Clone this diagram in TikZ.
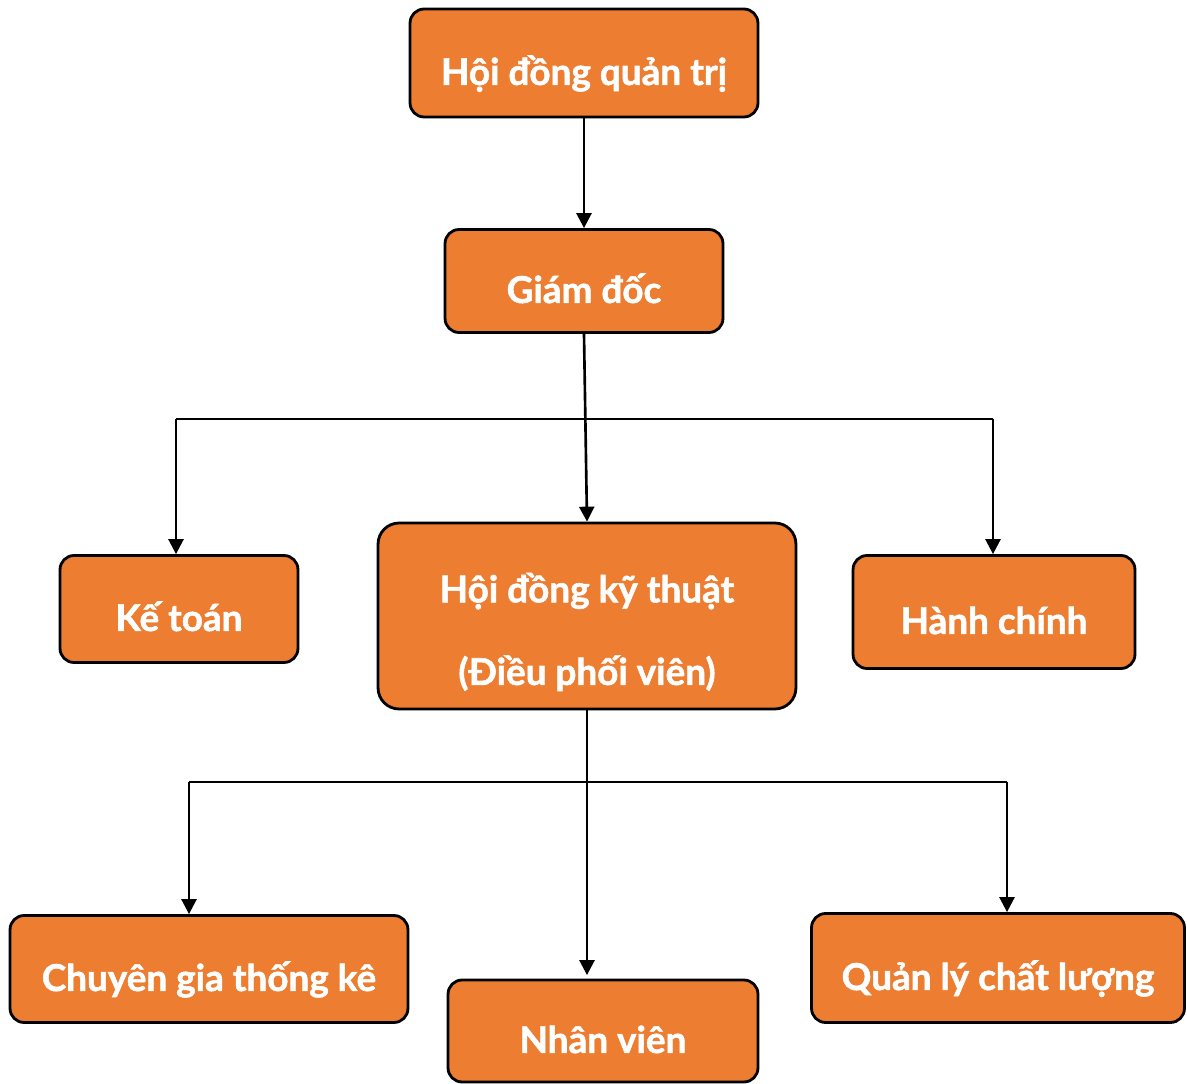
\documentclass[tikz,border=0pt]{standalone}
\usepackage{fontspec}
\setmainfont{Lato}[BoldFeatures={FakeBold=1.5}]
\usetikzlibrary{arrows.meta,positioning}
\definecolor{boxorange}{HTML}{ED7D31}

\tikzset{
    orgbox/.style={draw=black, line width=1.6pt, fill=boxorange, rounded corners=8pt,
        text=white, font=\bfseries\fontsize{21}{25}\selectfont, align=center, inner sep=0pt,
        text height=25pt, text depth=0pt},
    link/.style={line width=1.5pt, -{Triangle[length=8.5pt,width=8.5pt]}}
}

\begin{document}
\begin{tikzpicture}[x=0.02cm, y=-0.02cm]

    \useasboundingbox (0,0) rectangle (1187,1084);

    %boxes
    \node[orgbox, minimum width=6.96cm, minimum height=2.16cm] (hdqt) at (584,63) {Hội đồng quản trị};
    \node[orgbox, minimum width=5.56cm, minimum height=2.06cm] (gd) at (584,281) {Giám đốc};
    \node[orgbox, minimum width=4.76cm, minimum height=2.14cm] (kt) at (179,609) {Kế toán};
    \node[orgbox, minimum width=8.36cm, minimum height=3.72cm, rounded corners=12pt,
        text height=, text depth=] (hdkt) at (587,616)
        {\\[10pt]Hội đồng kỹ thuật\\[22pt](Điều phối viên)};
    \node[orgbox, minimum width=5.64cm, minimum height=2.26cm] (hc) at (994,612) {Hành chính};
    \node[orgbox, minimum width=7.96cm, minimum height=2.14cm] (cg) at (209,969) {Chuyên gia thống kê};
    \node[orgbox, minimum width=6.2cm, minimum height=2.04cm] (nv) at (603,1031) {Nhân viên};
    \node[orgbox, minimum width=7.46cm, minimum height=2.18cm] (ql) at (998,968) {Quản lý chất lượng};

    %branch points
    \coordinate (barL) at (176,419);
    \coordinate (barR) at (993,419);
    \coordinate (bar2L) at (189,782);
    \coordinate (bar2R) at (1007,782);

    %connectors
    \draw[link] (hdqt.south) -- (gd.north);
    \draw[link] (gd.south) -- (hdkt.north);
    \draw[line width=1.5pt] (barL) -- (barR);
    \draw[link] (barL) -- (barL |- kt.north);
    \draw[link] (barR) -- (barR |- hc.north);

    \draw[link, shorten >=2pt] (hdkt.south) -- (hdkt.south |- nv.north);
    \draw[line width=1.5pt] (bar2L) -- (bar2R);
    \draw[link] (bar2L) -- (bar2L |- cg.north);
    \draw[link] (bar2R) -- (bar2R |- ql.north);

\end{tikzpicture}
\end{document}
